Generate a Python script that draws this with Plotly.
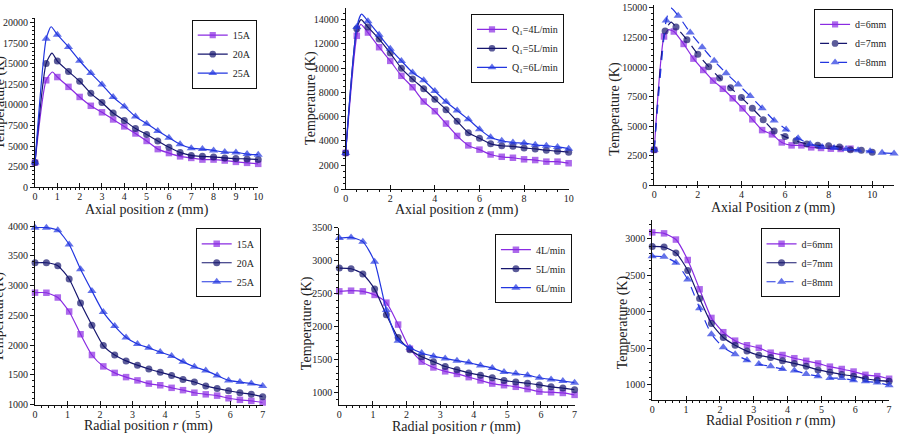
import plotly.graph_objects as go

W, H = 906, 440
FONT = "Liberation Serif"
PURPLE = "#8a2be2"
NAVY = "#16166e"
BLUE = "#2236e0"

# ---------------- Panel 1: current, axial ----------------
z1 = [0, 0.5, 1, 1.5, 2, 2.5, 3, 3.5, 4, 4.5, 5, 5.5, 6, 6.5, 7, 7.5, 8, 8.5, 9, 9.5, 10]
T1_15A = [3000, 13000, 13390, 12200, 10975, 9900, 9110, 8240, 7400, 6540, 5630, 4640, 4160, 3760, 3570, 3370, 3370, 3250, 3090, 2970, 2850]
T1_20A = [3000, 15050, 15330, 14070, 12880, 11410, 10300, 9030, 8120, 7130, 6420, 5630, 4870, 4240, 3880, 3760, 3680, 3570, 3490, 3450, 3370]
T1_25A = [3000, 18030, 18540, 17040, 15370, 13870, 12480, 10975, 9830, 8600, 7730, 6850, 6020, 5230, 4750, 4640, 4480, 4280, 4240, 4040, 3960]
peak1_z = [0.78, 0.76, 0.72]
peak1_T = [14000, 16300, 19500]
names1 = ["15A", "20A", "25A"]

# ---------------- Panel 2: flow, axial ----------------
z2 = z1
T2_4L = [3000, 12660, 12930, 11720, 10590, 9360, 8420, 7240, 6440, 5420, 4400, 3620, 3270, 2870, 2680, 2600, 2470, 2410, 2280, 2280, 2150]
T2_5L = [3000, 13250, 13380, 12390, 11240, 9980, 9090, 8290, 7430, 6570, 5610, 4670, 4210, 3750, 3590, 3540, 3410, 3330, 3220, 3140, 3060]
T2_6L = [3000, 13380, 13870, 12740, 11590, 10590, 9630, 8990, 8100, 7220, 6490, 5770, 4960, 4290, 4000, 3860, 3810, 3670, 3590, 3490, 3350]
peak2_z = [0.68, 0.69, 0.71]
peak2_T = [13600, 14000, 14450]
names2 = ["Q<sub>1</sub>=4L/min", "Q<sub>1</sub>=5L/min", "Q<sub>1</sub>=6L/min"]

# ---------------- Panel 3: diameter, axial ----------------
z3_6 = [0, 0.45, 0.9, 1.35, 1.8, 2.25, 2.7, 3.15, 3.6, 4.05, 4.5, 4.95, 5.4, 5.85, 6.3, 6.75, 7.2, 7.65, 8.1, 8.55, 9.0]
z3_7 = [0, 0.5, 1, 1.5, 2, 2.5, 3, 3.5, 4, 4.5, 5, 5.5, 6, 6.5, 7, 7.5, 8, 8.5, 9, 9.5, 10]
z3_8 = [0, 0.55, 1.1, 1.65, 2.2, 2.75, 3.3, 3.85, 4.4, 4.95, 5.5, 6.05, 6.6, 7.15, 7.7, 8.25, 8.8, 9.35, 9.9, 10.45, 11.0]
T3_6 = [3000, 12580, 13000, 11950, 10710, 9750, 8850, 8160, 7360, 6510, 5580, 4670, 4310, 3630, 3380, 3380, 3210, 3160, 3100, 3080, 3100]
T3_7 = [3000, 13050, 13380, 12310, 11070, 10030, 9070, 8240, 7420, 6510, 5550, 4590, 4120, 3760, 3490, 3380, 3350, 3240, 3020, 2970, 2800]
T3_8 = [3000, 13930, 14340, 12910, 11680, 10520, 9480, 8520, 7550, 6510, 5490, 4730, 3980, 3490, 3240, 3160, 3080, 2970, 2880, 2750, 2690]
peak3_z = [0.65, 0.78, 0.76]
peak3_T = [13150, 13800, 15000]
names3 = ["d=6mm", "d=7mm", "d=8mm"]

# ---------------- Panel 4: current, radial ----------------
r = [0, 0.35, 0.7, 1.05, 1.4, 1.75, 2.1, 2.45, 2.8, 3.15, 3.5, 3.85, 4.2, 4.55, 4.9, 5.25, 5.6, 5.95, 6.3, 6.65, 7.0]
T4_15A = [2882, 2880, 2800, 2565, 2184, 1835, 1644, 1535, 1464, 1409, 1355, 1327, 1284, 1245, 1202, 1175, 1153, 1109, 1082, 1065, 1038]
T4_20A = [3384, 3384, 3335, 3111, 2707, 2336, 1993, 1835, 1736, 1665, 1600, 1545, 1491, 1425, 1382, 1316, 1273, 1235, 1202, 1175, 1136]
T4_25A = [3973, 3973, 3929, 3689, 3275, 2909, 2555, 2320, 2129, 2020, 1955, 1884, 1818, 1720, 1638, 1573, 1491, 1409, 1382, 1355, 1316]
names4 = ["15A", "20A", "25A"]

# ---------------- Panel 5: flow, radial ----------------
T5_4L = [2538, 2548, 2538, 2484, 2367, 2035, 1669, 1474, 1386, 1327, 1288, 1239, 1190, 1142, 1117, 1093, 1059, 1020, 1010, 1000, 971]
T5_5L = [2890, 2880, 2802, 2572, 2182, 1840, 1654, 1547, 1474, 1400, 1352, 1303, 1269, 1230, 1190, 1166, 1147, 1122, 1093, 1073, 1049]
T5_6L = [3344, 3354, 3290, 2987, 2255, 1791, 1684, 1605, 1557, 1522, 1488, 1459, 1415, 1376, 1317, 1293, 1269, 1230, 1205, 1181, 1156]
names5 = ["4L/min", "5L/min", "6L/min"]

# ---------------- Panel 6: diameter, radial ----------------
T6_6 = [3089, 3076, 2991, 2710, 2308, 1915, 1719, 1603, 1540, 1504, 1438, 1406, 1362, 1326, 1290, 1246, 1214, 1179, 1134, 1116, 1080]
T6_7 = [2897, 2888, 2808, 2567, 2183, 1839, 1647, 1540, 1460, 1402, 1371, 1326, 1290, 1250, 1201, 1170, 1138, 1116, 1080, 1058, 1045]
T6_8 = [2763, 2754, 2674, 2442, 2049, 1692, 1513, 1415, 1335, 1281, 1250, 1214, 1192, 1147, 1116, 1089, 1089, 1058, 1045, 1027, 991]
names6 = ["d=6mm", "d=7mm", "d=8mm"]

COLORS = [PURPLE, NAVY, BLUE]
SYMBOLS = ["square", "circle", "triangle-up"]
MSIZE = [6.5, 7, 8]


def dom_x(a, b):
    return [a / W, b / W]


def dom_y(top, bottom):
    return [1 - bottom / H, 1 - top / H]


panels = [
    dict(xd=(32.3, 257.5), yd=(13, 187), xr=[0, 10], yr=[0, 20600], xdt=1, ydt=2500, y0=0),
    dict(xd=(345.7, 570.7), yd=(3, 189), xr=[0, 10], yr=[0, 14960], xdt=2, ydt=2000, y0=0),
    dict(xd=(657, 899), yd=(0, 185), xr=[0, 11], yr=[0, 15240], xdt=2, ydt=2500, y0=0),
    dict(xd=(32.3, 262), yd=(222, 410), xr=[0, 7], yr=[1000, 4077], xdt=1, ydt=500, y0=1000),
    dict(xd=(339.3, 576.7), yd=(228.3, 410.5), xr=[0, 7], yr=[814, 3503], xdt=1, ydt=500, y0=1000),
    dict(xd=(655, 894), yd=(221, 405), xr=[0, 7], yr=[790, 3253], xdt=1, ydt=500, y0=1000),
]

fig = go.Figure()


def add_series(idx, xs, ys, names, dashes, peaks=None):
    ax = "" if idx == 1 else str(idx)
    for k in range(3):
        x = list(xs[k])
        y = list(ys[k])
        sizes = [MSIZE[k]] * len(x)
        if peaks is not None:
            pz, pt = peaks[0][k], peaks[1][k]
            pos = next(i for i, v in enumerate(x) if v > pz)
            x.insert(pos, pz)
            y.insert(pos, pt)
            sizes.insert(pos, 0)
        fig.add_trace(go.Scatter(
            x=x, y=y, name=names[k], mode="lines+markers",
            xaxis="x" + ax, yaxis="y" + ax,
            legend="legend" + ax,
            line=dict(color=COLORS[k], width=1.2, shape="spline", smoothing=0.6, dash=dashes[k]),
            marker=dict(symbol=SYMBOLS[k], size=sizes, color=COLORS[k], line=dict(width=0)),
            cliponaxis=False,
        ))


add_series(1, [z1] * 3, [T1_15A, T1_20A, T1_25A], names1, ["solid"] * 3, (peak1_z, peak1_T))
add_series(2, [z2] * 3, [T2_4L, T2_5L, T2_6L], names2, ["solid"] * 3, (peak2_z, peak2_T))
add_series(3, [z3_6, z3_7, z3_8], [T3_6, T3_7, T3_8], names3, ["solid", "dash", "dash"], (peak3_z, peak3_T))
add_series(4, [r] * 3, [T4_15A, T4_20A, T4_25A], names4, ["solid"] * 3)
add_series(5, [r] * 3, [T5_4L, T5_5L, T5_6L], names5, ["solid"] * 3)
add_series(6, [r] * 3, [T6_6, T6_7, T6_8], names6, ["solid", "solid", "dash"])

layout = dict(
    width=W, height=H,
    margin=dict(l=0, r=0, t=0, b=0),
    paper_bgcolor="white", plot_bgcolor="white",
    font=dict(family=FONT, size=10, color="#222"),
    showlegend=True,
)

for i, p in enumerate(panels, start=1):
    ax = "" if i == 1 else str(i)
    common = dict(showline=True, linecolor="#111", linewidth=1, showgrid=False, zeroline=False,
                  tickfont=dict(family=FONT, size=10, color="#222"), ticklen=4, tickcolor="#111",
                  exponentformat="none", separatethousands=False, tickformat="d",
                  minor=dict(ticklen=2, tickcolor="#111", showgrid=False))
    layout["xaxis" + ax] = dict(domain=dom_x(*p["xd"]), range=p["xr"], anchor="y" + ax,
                                dtick=p["xdt"], tick0=0, ticks="inside", **common)
    layout["yaxis" + ax] = dict(domain=dom_y(*p["yd"]), range=p["yr"], anchor="x" + ax,
                                dtick=p["ydt"], tick0=p["y0"], ticks="outside", **common)

legend_pos = [(256, 15), (566, 9), (898, 4), (260, 229), (574, 235), (844, 229)]
for i, (lx, ly) in enumerate(legend_pos, start=1):
    key = "legend" if i == 1 else "legend" + str(i)
    layout[key] = dict(x=lx / W, y=1 - ly / H, xanchor="right", yanchor="top",
                       bgcolor="white", bordercolor="#111", borderwidth=1,
                       font=dict(family=FONT, size=10, color="#222"),
                       itemwidth=30, tracegroupgap=0)

fig.update_layout(**layout)

titles = [
    ("Axial position <i>z</i> (mm)", 145, 210, 0),
    ("Axial position <i>z</i> (mm)", 458, 210, 0),
    ("Axial Position <i>z</i> (mm)", 777, 208, 0),
    ("Radial position <i>r</i> (mm)", 147, 432, 0),
    ("Radial position <i>r</i> (mm)", 458, 433, 0),
    ("Radial Position <i>r</i> (mm)", 775, 427, 0),
    ("Temperature (K)", -4, 100, -90),
    ("Temperature (K)", 310, 95, -90),
    ("Temperature (K)", 618, 107, -90),
    ("Temperature(K)", -4, 320, -90),
    ("Temperature (K)", 307, 326, -90),
    ("Temperature (K)", 625, 325, -90),
]
for txt, x, y, ang in titles:
    fig.add_annotation(text=txt, x=x / W, y=1 - y / H, xref="paper", yref="paper",
                       showarrow=False, textangle=ang, xanchor="center", yanchor="middle",
                       font=dict(family=FONT, size=14, color="#222"))

fig.write_html("out.html")
